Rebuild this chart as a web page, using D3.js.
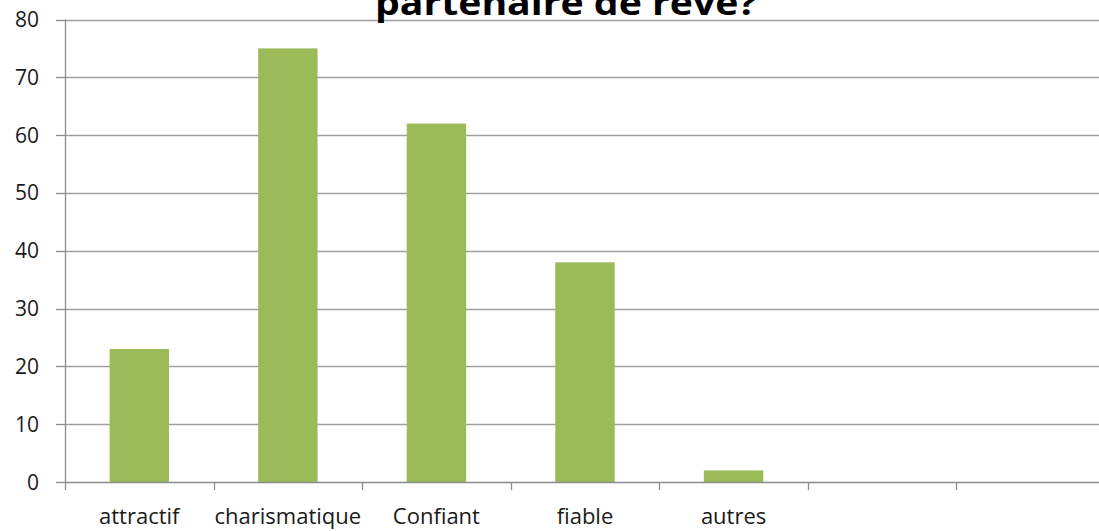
<!DOCTYPE html>
<html>
<head>
<meta charset="utf-8">
<script src="https://cdn.jsdelivr.net/npm/d3@7"></script>
<style>
  body { margin: 0; background: #fff; }
  svg { display: block; }
</style>
</head>
<body>
<div id="chart"></div>
<script>
const categories = ["attractif", "charismatique", "Confiant", "fiable", "autres", "", ""];
const values = [23, 75, 62, 38, 2, null, null];
const yTicks = [0, 10, 20, 30, 40, 50, 60, 70, 80];
const title = "partenaire de rêve?";

const width = 1099;
const height = 531;
const plotLeft = 65;
const plotRight = 1105;
const plotTop = 19.5;
const plotBottom = 482;

const svg = d3.select("#chart")
  .append("svg")
  .attr("width", width)
  .attr("height", height);

const idx = d3.range(categories.length);

const x = d3.scaleBand()
  .domain(idx)
  .range([plotLeft, plotRight])
  .paddingInner(0.6)
  .paddingOuter(0.3);

const xEdge = d3.scaleLinear().domain([0, categories.length]).range([plotLeft, plotRight]);

const y = d3.scaleLinear().domain([0, 80]).range([plotBottom, plotTop]);

const font = "'Open Sans', sans-serif";

// gridlines
svg.append("g")
  .selectAll("line")
  .data(yTicks.filter(t => t > 0))
  .join("line")
  .attr("x1", plotLeft)
  .attr("x2", width)
  .attr("y1", d => Math.round(y(d)) + 0.5)
  .attr("y2", d => Math.round(y(d)) + 0.5)
  .attr("stroke", "#a0a0a0")
  .attr("stroke-width", 1.3);

// bars
svg.append("g")
  .selectAll("rect")
  .data(idx.filter(i => values[i] != null))
  .join("rect")
  .attr("x", i => x(i))
  .attr("width", x.bandwidth())
  .attr("y", i => y(values[i]))
  .attr("height", i => y(0) - y(values[i]))
  .attr("fill", "#9bbb59");

// y axis line + ticks
const axisColor = "#8c8c8c";
svg.append("line")
  .attr("x1", plotLeft + 0.5).attr("x2", plotLeft + 0.5)
  .attr("y1", plotTop).attr("y2", plotBottom)
  .attr("stroke", axisColor).attr("stroke-width", 1.3);

svg.append("g")
  .selectAll("line")
  .data(yTicks)
  .join("line")
  .attr("x1", 56).attr("x2", plotLeft)
  .attr("y1", d => Math.round(y(d)) + 0.5)
  .attr("y2", d => Math.round(y(d)) + 0.5)
  .attr("stroke", axisColor).attr("stroke-width", 1.3);

svg.append("g")
  .selectAll("text")
  .data(yTicks)
  .join("text")
  .attr("x", 39)
  .attr("y", d => y(d))
  .attr("dy", "0.36em")
  .attr("text-anchor", "end")
  .style("font-family", font)
  .style("font-size", "21px")
  .attr("fill", "#1a1a1a")
  .text(d => d);

// x axis line + ticks at band edges
svg.append("line")
  .attr("x1", plotLeft).attr("x2", width)
  .attr("y1", plotBottom + 0.5).attr("y2", plotBottom + 0.5)
  .attr("stroke", axisColor).attr("stroke-width", 1.3);

svg.append("g")
  .selectAll("line")
  .data(d3.range(categories.length + 1))
  .join("line")
  .attr("x1", d => Math.round(xEdge(d)) + 0.5)
  .attr("x2", d => Math.round(xEdge(d)) + 0.5)
  .attr("y1", plotBottom).attr("y2", plotBottom + 8)
  .attr("stroke", axisColor).attr("stroke-width", 1.3);

svg.append("g")
  .selectAll("text")
  .data(idx)
  .join("text")
  .attr("x", i => x(i) + x.bandwidth() / 2)
  .attr("y", 524)
  .attr("text-anchor", "middle")
  .style("font-family", font)
  .style("font-size", "22px")
  .attr("fill", "#1a1a1a")
  .text(i => categories[i]);

// title (its upper part is cut off by the frame)
svg.append("text")
  .attr("x", 566)
  .attr("y", 15)
  .attr("text-anchor", "middle")
  .style("font-family", font)
  .style("font-weight", "bold")
  .style("font-size", "34px")
  .attr("textLength", 382)
  .attr("lengthAdjust", "spacingAndGlyphs")
  .attr("fill", "#000")
  .text(title);
</script>
</body>
</html>
